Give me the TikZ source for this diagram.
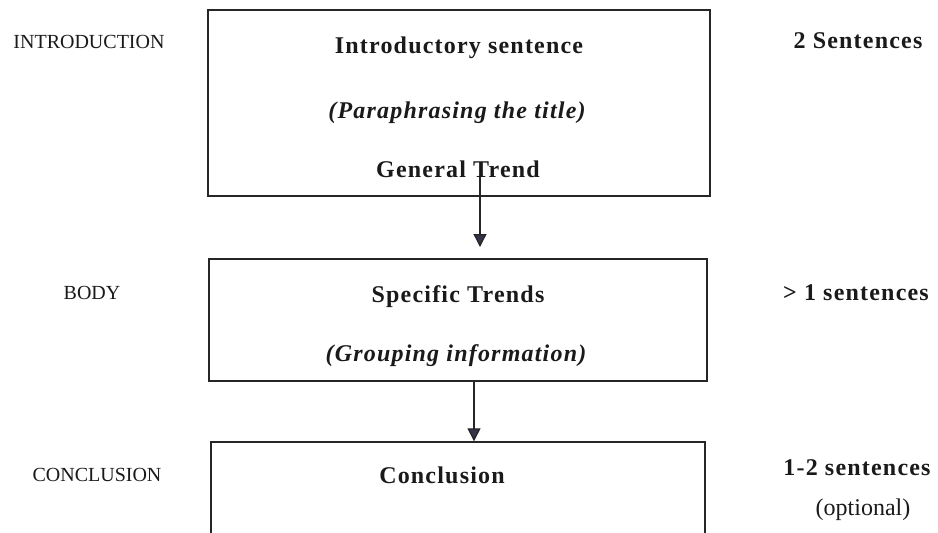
\documentclass[tikz,border=0pt]{standalone}
\usepackage{fontspec}
\setmainfont{Liberation Serif}
\newfontfamily\spaced{Liberation Serif}[LetterSpace=5]
\usetikzlibrary{arrows.meta}
\definecolor{ink}{HTML}{1A1A1A}
\definecolor{linec}{HTML}{262626}
\definecolor{tipc}{HTML}{35324A}
\tikzset{
  boxnode/.style={draw=linec, line width=1.4pt, minimum width=#1, inner sep=0pt},
  maintext/.style={anchor=base, inner sep=0pt, text=ink, font=\fontsize{24}{28}\selectfont\spaced\bfseries},
  ittext/.style={anchor=base, inner sep=0pt, text=ink, font=\fontsize{24}{28}\selectfont\spaced\bfseries\itshape},
  sidetext/.style={anchor=base, inner sep=0pt, text=ink, font=\fontsize{20}{24}\selectfont},
  plaintext/.style={anchor=base, inner sep=0pt, text=ink, font=\fontsize{24}{28}\selectfont},
  arr/.style={draw=linec, line width=1.3pt, -{Triangle[width=13pt,length=13pt,fill=tipc]}}
}
\begin{document}
\begin{tikzpicture}[x=1pt,y=-1pt]
\useasboundingbox[fill=white] (0,0) rectangle (938,533);
\clip (0,0) rectangle (938,533);
% boxes
\node[boxnode=502pt, minimum height=186pt] (b1) at (459,103) {};
\node[boxnode=498pt, minimum height=122pt] (b2) at (458,320) {};
\node[boxnode=494pt, minimum height=200pt] (b3) at (458,542) {};
% left labels
\node[sidetext] (lintro) at (89,48) {INTRODUCTION};
\node[sidetext] (lbody) at (92,299) {BODY};
\node[sidetext] (lconc) at (97,481) {CONCLUSION};
% box 1 texts
\node[maintext] (t11) at (459,53) {Introductory sentence};
\node[ittext] (t12) at (457,118) {(Paraphrasing the title)};
\node[maintext] (t13) at (458,177) {General Trend};
% box 2 texts
\node[maintext] (t21) at (458,302) {Specific Trends};
\node[ittext] (t22) at (456,361) {(Grouping information)};
% box 3 text
\node[maintext] (t31) at (442,483) {Conclusion};
% right texts
\node[maintext] (r1) at (858,48) {2 Sentences};
\node[maintext] (r2) at (856,300) {> 1 sentences};
\node[maintext] (r3) at (857,475) {1-2 sentences};
\node[plaintext] (r4) at (863,515) {(optional)};
% connectors
\coordinate (tip1) at (480,247);
\draw[arr] (t13.south -| tip1) -- (tip1);
\coordinate (ax2) at (474,0);
\draw[arr] (b2.south -| ax2) -- (b3.north -| ax2);
\end{tikzpicture}
\end{document}
